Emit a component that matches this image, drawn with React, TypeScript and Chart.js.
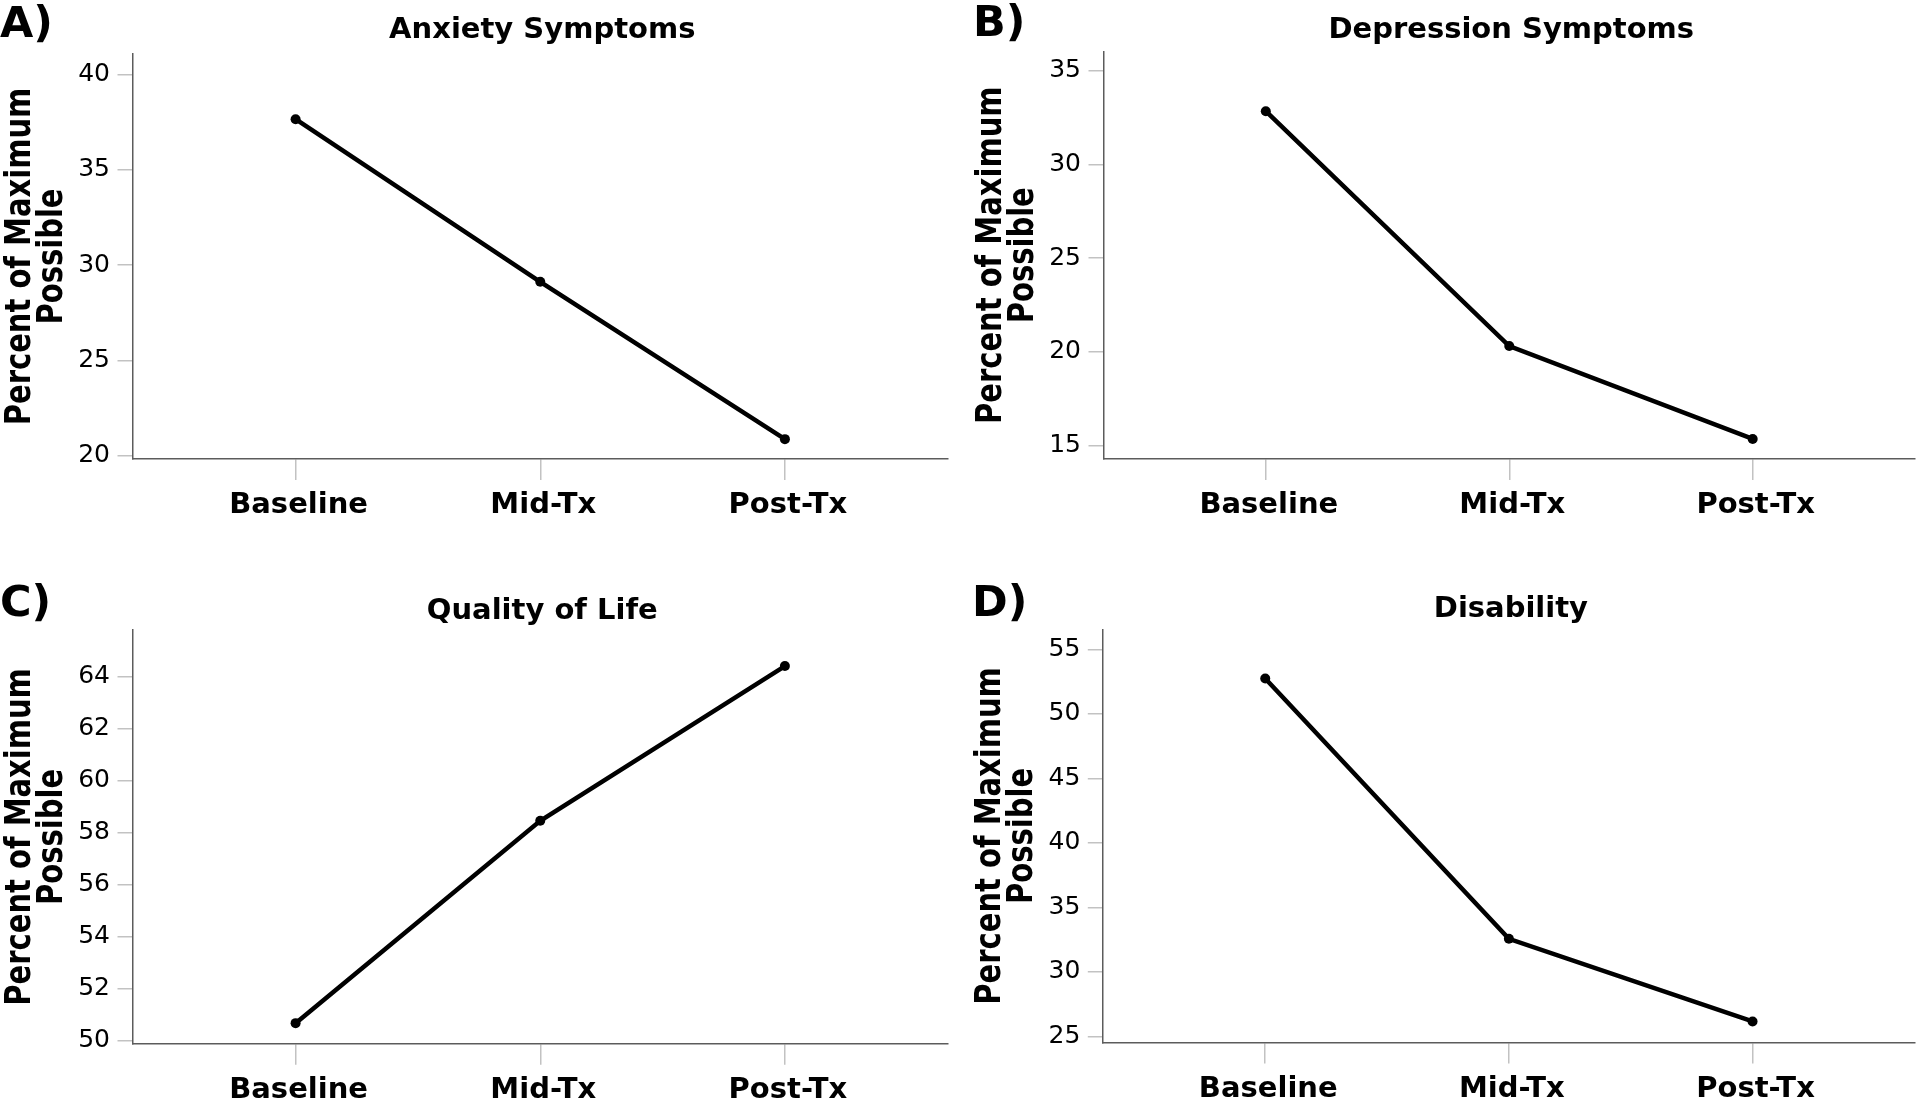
import React, { useEffect, useRef } from 'react';
import { Chart, registerables } from 'chart.js';

Chart.register(...registerables);

// ---------- data ----------
const categories = ['Baseline', 'Mid-Tx', 'Post-Tx'];

const anxietyValues = [37.65, 29.13, 20.88];
const depressionValues = [32.84, 20.3, 15.34];
const qualityValues = [50.68, 58.46, 64.41];
const disabilityValues = [52.74, 32.56, 26.15];

const anxietyTicks = [20, 25, 30, 35, 40];
const depressionTicks = [15, 20, 25, 30, 35];
const qualityTicks = [50, 52, 54, 56, 58, 60, 62, 64];
const disabilityTicks = [25, 30, 35, 40, 45, 50, 55];

const anxietyRange = [19.84, 41.07];
const depressionRange = [14.27, 36.03];
const qualityRange = [49.89, 65.79];
const disabilityRange = [24.51, 56.55];

const panelLetters = ['A)', 'B)', 'C)', 'D)'];
const panelTitles = ['Anxiety Symptoms', 'Depression Symptoms', 'Quality of Life', 'Disability'];
const yAxisTitleLines = ['Percent of Maximum', 'Possible'];

const seriesValues = [anxietyValues, depressionValues, qualityValues, disabilityValues];
const seriesTicks = [anxietyTicks, depressionTicks, qualityTicks, disabilityTicks];
const seriesRanges = [anxietyRange, depressionRange, qualityRange, disabilityRange];

// ---------- layout (positions / styles) ----------
type Layout = {
  left: number; top: number; width: number; height: number;
  area: { left: number; top: number; right: number; bottom: number };
  titleY: number; letterX: number; letterY: number;
};

const layouts: Layout[] = [
  { left: 0, top: 0, width: 960, height: 550, area: { left: 132.5, top: 54, right: 948, bottom: 459 }, titleY: 38, letterX: 0, letterY: 37 },
  { left: 960, top: 0, width: 960, height: 550, area: { left: 143.5, top: 51.5, right: 958, bottom: 459 }, titleY: 38, letterX: 13, letterY: 36 },
  { left: 0, top: 550, width: 960, height: 551, area: { left: 132.5, top: 80.2, right: 948, bottom: 493.7 }, titleY: 69, letterX: 0, letterY: 66 },
  { left: 960, top: 550, width: 960, height: 551, area: { left: 142.8, top: 79.3, right: 958, bottom: 492.6 }, titleY: 67, letterX: 12, letterY: 66 },
];

const FONT = '"DejaVu Sans", "Noto Sans", sans-serif';
const AXIS_COLOR = '#5c5c5c';
const TICK_COLOR = '#c2c2c2';

function Panel({ index }: { index: number }) {
  const ref = useRef<HTMLCanvasElement | null>(null);
  const lay = layouts[index];

  useEffect(() => {
    if (!ref.current) return;
    const values = seriesValues[index];
    const ticks = seriesTicks[index];
    const range = seriesRanges[index];
    const letter = panelLetters[index];
    const title = panelTitles[index];

    const textPlugin = {
      id: 'panelText' + index,
      afterDraw(chart: any) {
        const { ctx, chartArea } = chart;
        ctx.save();
        ctx.fillStyle = '#000';
        ctx.textBaseline = 'alphabetic';
        // panel letter
        ctx.font = `bold 43px ${FONT}`;
        ctx.textAlign = 'left';
        ctx.fillText(letter, lay.letterX, lay.letterY);
        // panel title
        ctx.font = `bold 29px ${FONT}`;
        ctx.textAlign = 'center';
        ctx.fillText(title, (chartArea.left + chartArea.right) / 2 + 2, lay.titleY);
        // y-axis title (two lines, rotated)
        const cy = (chartArea.top + chartArea.bottom) / 2;
        yAxisTitleLines.forEach((line, i) => {
          ctx.save();
          ctx.translate(chartArea.left - 102.5 + i * 32, cy);
          ctx.rotate(-Math.PI / 2);
          ctx.scale(1, 1.22);
          ctx.font = `bold 29px ${FONT}`;
          ctx.textAlign = 'center';
          ctx.fillText(line, 0, 0);
          ctx.restore();
        });
        ctx.restore();
      },
    };

    const chart = new Chart(ref.current, {
      type: 'line',
      data: {
        datasets: [
          {
            data: values.map((v, i) => ({ x: i, y: v })),
            borderColor: '#000',
            backgroundColor: '#000',
            borderWidth: 4.5,
            pointRadius: 5,
            pointBackgroundColor: '#000',
            pointBorderWidth: 0,
            tension: 0,
            fill: false,
          },
        ],
      },
      options: {
        animation: false,
        responsive: false,
        maintainAspectRatio: false,
        layout: {
          padding: { left: 0, top: lay.area.top, right: lay.width - lay.area.right, bottom: 0 },
        },
        plugins: {
          legend: { display: false },
          tooltip: { enabled: false },
          title: { display: false },
        },
        scales: {
          x: {
            type: 'linear',
            min: -2 / 3,
            max: 2 + 2 / 3,
            afterBuildTicks: (s: any) => {
              s.ticks = categories.map((_, i) => ({ value: i }));
            },
            afterFit: (s: any) => {
              s.height = lay.height - lay.area.bottom;
            },
            ticks: {
              callback: (v: any) => categories[v as number] ?? '',
              font: { family: FONT, size: 29, weight: 'bold' },
              color: '#000',
              padding: 8,
              labelOffset: 3,
              maxRotation: 0,
              autoSkip: false,
            },
            grid: { drawOnChartArea: false, drawTicks: true, tickLength: 21, color: TICK_COLOR, lineWidth: 1.5 },
            border: { display: true, color: AXIS_COLOR, width: 1.5 },
          },
          y: {
            type: 'linear',
            min: range[0],
            max: range[1],
            afterBuildTicks: (s: any) => {
              s.ticks = ticks.map((v) => ({ value: v }));
            },
            afterFit: (s: any) => {
              s.width = lay.area.left;
            },
            ticks: {
              font: { family: FONT, size: 25 },
              color: '#000',
              padding: 7.5,
              autoSkip: false,
            },
            grid: { drawOnChartArea: false, drawTicks: true, tickLength: 15, color: TICK_COLOR, lineWidth: 1.5 },
            border: { display: true, color: AXIS_COLOR, width: 1.5 },
          },
        },
      } as any,
      plugins: [textPlugin],
    });
    return () => chart.destroy();
  }, [index]);

  return (
    <div style={{ position: 'absolute', left: lay.left, top: lay.top, width: lay.width, height: lay.height }}>
      <canvas ref={ref} width={lay.width} height={lay.height} style={{ width: lay.width, height: lay.height, display: 'block' }} />
    </div>
  );
}

export default function App() {
  return (
    <div style={{ position: 'absolute', left: 0, top: 0, width: 1920, height: 1101, background: '#fff', overflow: 'hidden' }}>
      {layouts.map((_, i) => (
        <Panel key={i} index={i} />
      ))}
    </div>
  );
}
